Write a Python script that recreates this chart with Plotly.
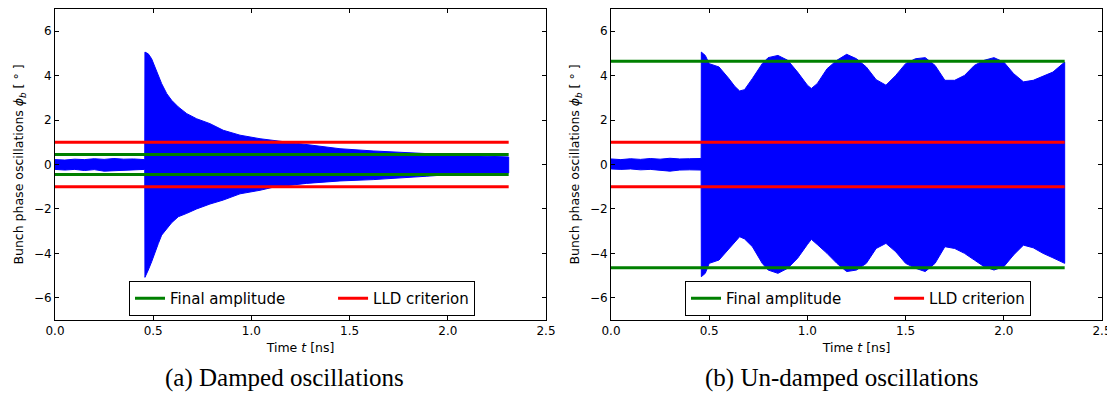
import plotly.graph_objects as go
from plotly.subplots import make_subplots

# ---------------- data ----------------
# (a) damped oscillations: envelope of the bunch phase signal
t_a = [0.0, 0.05, 0.1, 0.15, 0.2, 0.25, 0.3, 0.35, 0.4, 0.457,
       0.458, 0.475, 0.492, 0.509, 0.526, 0.543, 0.569, 0.594, 0.628, 0.671,
       0.721, 0.789, 0.857, 0.942, 1.044, 1.112, 1.281, 1.451, 1.62, 1.79,
       1.89, 2.0, 2.1, 2.2, 2.31]
upper_a = [0.22, 0.2, 0.24, 0.22, 0.26, 0.23, 0.27, 0.24, 0.25, 0.22,
           5.06, 4.98, 4.76, 4.39, 4.01, 3.64, 3.19, 2.89, 2.59, 2.29,
           2.06, 1.84, 1.54, 1.32, 1.16, 1.09, 0.91, 0.71, 0.61, 0.53,
           0.49, 0.43, 0.4, 0.37, 0.34]
lower_a = [-0.22, -0.25, -0.22, -0.27, -0.23, -0.3, -0.28, -0.26, -0.24, -0.22,
           -5.08, -4.75, -4.38, -4.0, -3.56, -3.18, -2.9, -2.62, -2.35, -2.2,
           -2.0, -1.78, -1.6, -1.32, -1.16, -1.02, -0.85, -0.74, -0.68, -0.59,
           -0.53, -0.46, -0.42, -0.4, -0.38]
final_a = 0.45

# (b) un-damped oscillations
t_b = [0.0, 0.05, 0.1, 0.15, 0.2, 0.25, 0.3, 0.35, 0.4, 0.459,
       0.46, 0.48, 0.5, 0.55, 0.6, 0.63, 0.655, 0.68, 0.72, 0.77, 0.8, 0.85, 0.9,
       0.95, 1.0, 1.02, 1.05, 1.1, 1.15, 1.2, 1.25, 1.3, 1.35, 1.4, 1.45, 1.5,
       1.55, 1.6, 1.65, 1.7, 1.75, 1.8, 1.85, 1.9, 1.95, 2.0, 2.05, 2.1, 2.15,
       2.2, 2.25, 2.31]
upper_b = [0.25, 0.22, 0.26, 0.23, 0.27, 0.24, 0.28, 0.25, 0.26, 0.27,
           5.06, 4.91, 4.54, 4.39, 3.87, 3.52, 3.31, 3.37, 3.87, 4.54, 4.81, 4.91, 4.69,
           4.16, 3.57, 3.42, 3.64, 4.31, 4.69, 4.96, 4.76, 4.39, 3.82, 3.57, 4.01, 4.54,
           4.76, 4.81, 4.46, 3.79, 3.79, 4.01, 4.46, 4.69, 4.81, 4.61, 4.09, 3.72, 3.79,
           3.97, 4.16, 4.61]
lower_b = [-0.2, -0.22, -0.2, -0.24, -0.22, -0.26, -0.3, -0.25, -0.24, -0.25,
           -5.05, -4.9, -4.45, -4.3, -3.85, -3.5, -3.25, -3.35, -3.7, -4.45, -4.75, -4.9, -4.67,
           -4.22, -3.6, -3.37, -3.6, -4.0, -4.45, -4.82, -4.75, -4.45, -3.78, -3.55, -3.93, -4.45,
           -4.67, -4.82, -4.45, -3.7, -3.78, -4.0, -4.3, -4.6, -4.75, -4.6, -4.07, -3.63, -3.75,
           -4.0, -4.2, -4.45]
final_b = 4.65

lld = 1.0
t_end = 2.31

legend_names = ["Final amplitude", "LLD criterion"]
captions = ["(a) Damped oscillations", "(b) Un-damped oscillations"]
x_ticks = [0.0, 0.5, 1.0, 1.5, 2.0, 2.5]
y_ticks = [-6, -4, -2, 0, 2, 4, 6]

# ---------------- figure ----------------
# the page body adds an 8 px offset, so the figure is laid out 8 px up/left
OFF = 8
W, H = 1115 - OFF, 394 - OFF
ml, mt = 55 - OFF, 9 - OFF
mr = W - (1102 - OFF)
mb = H - (320 - OFF)
pw = W - ml - mr
ph = H - mt - mb

fig = make_subplots(rows=1, cols=2)
fig.update_layout(xaxis=dict(domain=[0, (546 - 55) / pw]),
                  xaxis2=dict(domain=[(611 - 55) / pw, 1]))

pad = "\u00a0" * 9
panels = [(t_a, upper_a, lower_a, final_a, "legend"),
          (t_b, upper_b, lower_b, final_b, "legend2")]

for i, (t, up, lo, fin, leg) in enumerate(panels, start=1):
    fig.add_trace(go.Scatter(
        x=list(t) + list(t)[::-1], y=list(up) + list(lo)[::-1],
        fill="toself", fillcolor="#0000ff", mode="lines",
        line=dict(color="#0000ff", width=1), showlegend=False,
        hoverinfo="skip"), row=1, col=i)
    fig.add_trace(go.Scatter(
        x=[0, t_end, None, 0, t_end], y=[fin, fin, None, -fin, -fin],
        mode="lines", line=dict(color="#008000", width=3),
        name=legend_names[0] + pad, legend=leg), row=1, col=i)
    fig.add_trace(go.Scatter(
        x=[0, t_end, None, 0, t_end], y=[lld, lld, None, -lld, -lld],
        mode="lines", line=dict(color="#ff0000", width=3),
        name=legend_names[1], legend=leg), row=1, col=i)

axis_font = dict(family="DejaVu Sans", size=12, color="black")
title_font = dict(family="DejaVu Sans", size=12.5, color="black")
for i in (1, 2):
    fig.update_xaxes(range=[0, 2.5], tickvals=x_ticks, tickformat=".1f",
                     ticks="inside", ticklen=4, tickcolor="black",
                     showline=True, linecolor="black", linewidth=1, mirror="ticks",
                     showgrid=False, zeroline=False, tickfont=axis_font,
                     automargin=False,
                     title=dict(text="Time <i>t</i> [ns]", font=title_font, standoff=5),
                     row=1, col=i)
    fig.update_yaxes(range=[-7, 7], tickvals=y_ticks,
                     ticks="inside", ticklen=4, tickcolor="black",
                     showline=True, linecolor="black", linewidth=1, mirror="ticks",
                     showgrid=False, zeroline=False, tickfont=axis_font,
                     automargin=False,
                     title=dict(text="Bunch phase oscillations <i>ϕ<sub>b</sub></i> [ ° ]",
                                font=title_font, standoff=7),
                     row=1, col=i)

leg_common = dict(orientation="h", xanchor="center", yanchor="bottom",
                  y=(320 - 316) / ph, bgcolor="white", bordercolor="black",
                  borderwidth=1,
                  font=dict(family="DejaVu Sans", size=15, color="black"))
fig.update_layout(
    legend=dict(x=(302 - 55) / pw, **leg_common),
    legend2=dict(x=(858 - 55) / pw, **leg_common),
)

for cx, txt in zip([284.5, 842], captions):
    fig.add_annotation(text=txt, x=(cx - 55) / pw, y=(320 - 378) / ph,
                       xref="paper", yref="paper", showarrow=False,
                       xanchor="center", yanchor="middle",
                       font=dict(family="Liberation Serif", size=25, color="black"))

fig.update_layout(width=W, height=H, margin=dict(l=ml, r=mr, t=mt, b=mb),
                  plot_bgcolor="white", paper_bgcolor="white")

fig.write_html("out.html")
